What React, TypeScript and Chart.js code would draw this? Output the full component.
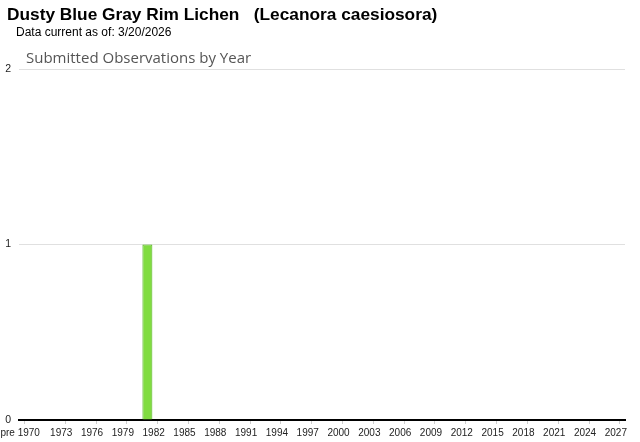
import React, { useEffect, useRef } from "react";
import { Chart, registerables } from "chart.js";

Chart.register(...registerables);

const TITLE = "Dusty Blue Gray Rim Lichen   (Lecanora caesiosora)";
const SUBTITLE = "Data current as of: 3/20/2026";
const CHART_TITLE = "Submitted Observations by Year";

const FIRST_YEAR = 1970;
const LAST_YEAR = 2027;
const years: string[] = [];
for (let y = FIRST_YEAR; y <= LAST_YEAR; y++) years.push(String(y));
const categories: string[] = ["pre 1970", ...years];

// observations per category (only 1981 has one)
const observedYears = ["1981"];
const observedCounts = [1];
const counts: number[] = categories.map((c) => {
  const i = observedYears.indexOf(c);
  return i >= 0 ? observedCounts[i] : 0;
});

const yTicks = [0, 1, 2];

function showLabel(index: number): boolean {
  if (index === 0) return true;
  const year = Number(categories[index]);
  return year > FIRST_YEAR && (year - FIRST_YEAR) % 3 === 0;
}

const AXIS_FONT = "Arial, 'Liberation Sans', sans-serif";

export default function App() {
  const ref = useRef<HTMLCanvasElement | null>(null);
  useEffect(() => {
    if (!ref.current) return;
    const chart = new Chart(ref.current, {
      type: "bar",
      data: {
        labels: categories,
        datasets: [
          {
            data: counts,
            backgroundColor: "#80dc40",
            borderColor: "#4caf14",
            borderWidth: 1,
            barPercentage: 0.97,
            categoryPercentage: 1,
          },
        ],
      },
      options: {
        animation: false,
        responsive: false,
        maintainAspectRatio: false,
        layout: { padding: { top: 69, right: 15, bottom: 0, left: 0 } },
        plugins: { legend: { display: false }, tooltip: { enabled: false } },
        scales: {
          x: {
            grid: {
              offset: false,
              drawOnChartArea: false,
              drawTicks: true,
              tickLength: 4,
              color: (ctx: any) => (showLabel(ctx.index) ? "#cccccc" : "rgba(0,0,0,0)"),
            },
            border: { display: true, color: "#000000", width: 2 },
            ticks: {
              autoSkip: false,
              maxRotation: 0,
              minRotation: 0,
              padding: 3,
              labelOffset: -4,
              color: "#222222",
              font: { family: AXIS_FONT, size: 10 },
              callback: (_v: any, index: number) => (showLabel(index) ? categories[index] : ""),
            },
          },
          y: {
            min: 0,
            max: 2,
            afterFit: (scale: any) => {
              scale.width = 19;
            },
            afterBuildTicks: (scale: any) => {
              scale.ticks = yTicks.map((v) => ({ value: v }));
            },
            grid: { color: "#e0e0e0", drawTicks: false, lineWidth: 1 },
            border: { display: false },
            ticks: {
              padding: 8,
              color: "#222222",
              font: { family: AXIS_FONT, size: 10.5 },
            },
          },
        },
      },
    });
    return () => chart.destroy();
  }, []);

  return (
    <div
      style={{
        position: "fixed",
        left: 0,
        top: 0,
        width: 640,
        height: 442,
        background: "#ffffff",
        overflow: "hidden",
      }}
    >
      <canvas ref={ref} width={640} height={442} style={{ position: "absolute", left: 0, top: 0 }} />
      <div
        style={{
          position: "absolute",
          left: 7,
          top: 4,
          fontFamily: "Arial, 'Liberation Sans', sans-serif",
          fontWeight: "bold",
          fontSize: 17.3,
          whiteSpace: "pre",
          color: "#000",
          lineHeight: "20px",
        }}
      >
        {TITLE}
      </div>
      <div
        style={{
          position: "absolute",
          left: 16,
          top: 24,
          fontFamily: "Arial, 'Liberation Sans', sans-serif",
          fontSize: 12,
          color: "#000",
          lineHeight: "16px",
          whiteSpace: "pre",
        }}
      >
        {SUBTITLE}
      </div>
      <div
        style={{
          position: "absolute",
          left: 26,
          top: 47,
          fontFamily: "'Open Sans', sans-serif",
          fontSize: 15,
          color: "#555555",
          lineHeight: "20px",
          whiteSpace: "pre",
        }}
      >
        {CHART_TITLE}
      </div>
    </div>
  );
}
